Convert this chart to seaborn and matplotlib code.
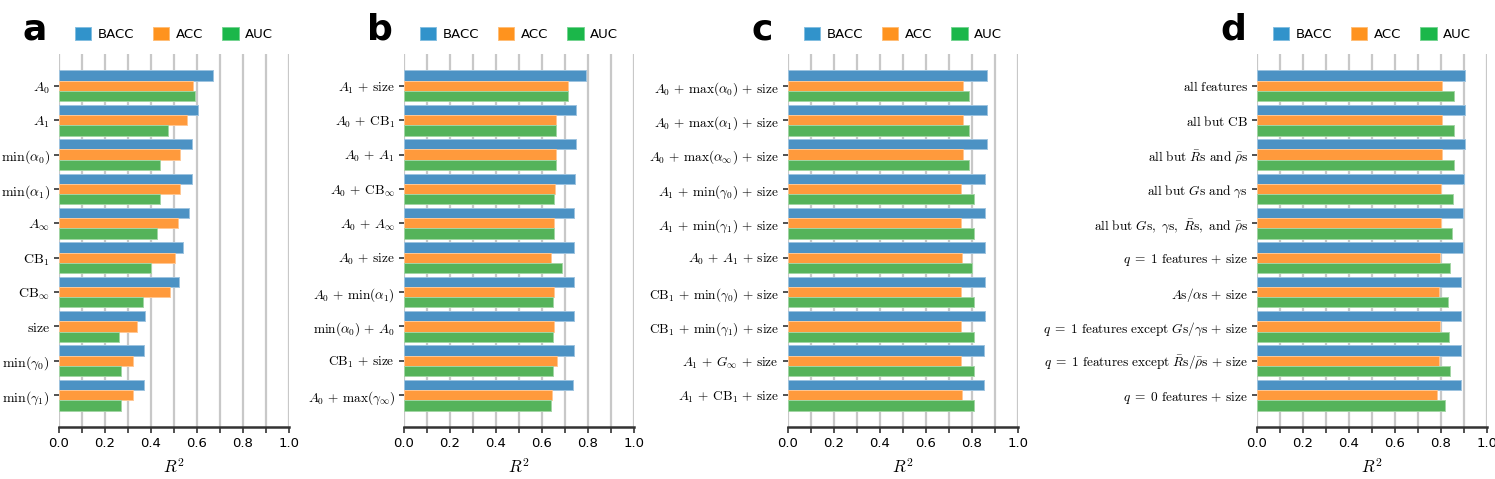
import numpy as np
import pandas as pd
import matplotlib
matplotlib.use("Agg")
import matplotlib.pyplot as plt
import matplotlib.colors as mcolors
from matplotlib.patches import Patch
import seaborn as sns

metrics = ["BACC", "ACC", "AUC"]

labels_a = [r"$A_0$", r"$A_1$", r"$\mathrm{min}(\alpha_0)$", r"$\mathrm{min}(\alpha_1)$", r"$A_\infty$",
            r"$\mathrm{CB}_1$", r"$\mathrm{CB}_\infty$", r"$\mathrm{size}$",
            r"$\mathrm{min}(\gamma_0)$", r"$\mathrm{min}(\gamma_1)$"]
bacc_a = [0.669, 0.605, 0.579, 0.579, 0.567, 0.541, 0.522, 0.373, 0.370, 0.370]
acc_a = [0.582, 0.556, 0.528, 0.528, 0.518, 0.504, 0.482, 0.338, 0.322, 0.321]
auc_a = [0.591, 0.476, 0.438, 0.438, 0.424, 0.401, 0.367, 0.263, 0.268, 0.268]

labels_b = [r"$A_1\,+\,\mathrm{size}$", r"$A_0\,+\,\mathrm{CB}_1$", r"$A_0\,+\,A_1$",
            r"$A_0\,+\,\mathrm{CB}_\infty$", r"$A_0\,+\,A_\infty$", r"$A_0\,+\,\mathrm{size}$",
            r"$A_0\,+\,\mathrm{min}(\alpha_1)$", r"$\mathrm{min}(\alpha_0)\,+\,A_0$",
            r"$\mathrm{CB}_1\,+\,\mathrm{size}$", r"$A_0\,+\,\mathrm{max}(\gamma_\infty)$"]
bacc_b = [0.791, 0.749, 0.747, 0.744, 0.740, 0.738, 0.738, 0.738, 0.737, 0.733]
acc_b = [0.712, 0.661, 0.660, 0.656, 0.651, 0.640, 0.650, 0.650, 0.667, 0.645]
auc_b = [0.712, 0.660, 0.660, 0.651, 0.650, 0.686, 0.648, 0.648, 0.647, 0.637]

labels_c = [r"$A_0\,+\,\mathrm{max}(\alpha_0)\,+\,\mathrm{size}$",
            r"$A_0\,+\,\mathrm{max}(\alpha_1)\,+\,\mathrm{size}$",
            r"$A_0\,+\,\mathrm{max}(\alpha_\infty)\,+\,\mathrm{size}$",
            r"$A_1\,+\,\mathrm{min}(\gamma_0)\,+\,\mathrm{size}$",
            r"$A_1\,+\,\mathrm{min}(\gamma_1)\,+\,\mathrm{size}$",
            r"$A_0\,+\,A_1\,+\,\mathrm{size}$",
            r"$\mathrm{CB}_1\,+\,\mathrm{min}(\gamma_0)\,+\,\mathrm{size}$",
            r"$\mathrm{CB}_1\,+\,\mathrm{min}(\gamma_1)\,+\,\mathrm{size}$",
            r"$A_1\,+\,G_\infty\,+\,\mathrm{size}$",
            r"$A_1\,+\,\mathrm{CB}_1\,+\,\mathrm{size}$"]
bacc_c = [0.865, 0.865, 0.865, 0.855, 0.855, 0.855, 0.855, 0.855, 0.852, 0.852]
acc_c = [0.763, 0.763, 0.763, 0.753, 0.753, 0.755, 0.752, 0.752, 0.753, 0.756]
auc_c = [0.785, 0.785, 0.785, 0.810, 0.810, 0.798, 0.808, 0.808, 0.807, 0.807]

labels_d = [r"$\mathrm{all\ features}$", r"$\mathrm{all\ but\ CB}$",
            r"$\mathrm{all\ but\ }\bar{R}\mathrm{s\ and\ }\bar{\rho}\mathrm{s}$",
            r"$\mathrm{all\ but\ }G\mathrm{s\ and\ }\gamma\mathrm{s}$",
            r"$\mathrm{all\ but\ }G\mathrm{s,\ }\gamma\mathrm{s,\ }\bar{R}\mathrm{s,\ and\ }\bar{\rho}\mathrm{s}$",
            r"$q\;=\;1\ \mathrm{features}\,+\,\mathrm{size}$",
            r"$A\mathrm{s}/\alpha\mathrm{s}\,+\,\mathrm{size}$",
            r"$q\;=\;1\ \mathrm{features\ except\ }G\mathrm{s}/\gamma\mathrm{s}\,+\,\mathrm{size}$",
            r"$q\;=\;1\ \mathrm{features\ except\ }\bar{R}\mathrm{s}/\bar{\rho}\mathrm{s}\,+\,\mathrm{size}$",
            r"$q\;=\;0\ \mathrm{features}\,+\,\mathrm{size}$"]
bacc_d = [0.906, 0.906, 0.903, 0.900, 0.897, 0.894, 0.888, 0.888, 0.888, 0.887]
acc_d = [0.806, 0.806, 0.804, 0.801, 0.798, 0.795, 0.790, 0.794, 0.790, 0.782]
auc_d = [0.856, 0.856, 0.856, 0.851, 0.848, 0.840, 0.832, 0.835, 0.839, 0.819]

bar_colors = ["#4c92c4", "#ff9a3c", "#55b35a"]
legend_colors = ["#3193cb", "#ff931e", "#1bb74a"]

sns.set_theme(style="white")
plt.rcParams["mathtext.fontset"] = "cm"
plt.rcParams["font.family"] = ["DejaVu Sans"]
plt.rcParams["text.color"] = "black"
plt.rcParams["xtick.color"] = "black"
plt.rcParams["ytick.color"] = "black"
plt.rcParams["axes.labelcolor"] = "black"


def make_df(labels, bacc, acc, auc):
    rows = []
    for lab, b, a, u in zip(labels, bacc, acc, auc):
        rows.append({"feature": lab, "metric": "BACC", "value": b})
        rows.append({"feature": lab, "metric": "ACC", "value": a})
        rows.append({"feature": lab, "metric": "AUC", "value": u})
    return pd.DataFrame(rows)


def lighten(c, f):
    return tuple(np.array(mcolors.to_rgb(c)) * (1 - f) + f)


panels = [
    ("a", make_df(labels_a, bacc_a, acc_a, auc_a), labels_a, 10),
    ("b", make_df(labels_b, bacc_b, acc_b, auc_b), labels_b, 9.6),
    ("c", make_df(labels_c, bacc_c, acc_c, auc_c), labels_c, 9.6),
    ("d", make_df(labels_d, bacc_d, acc_d, auc_d), labels_d, 9.6),
]

fig = plt.figure(figsize=(14.95, 4.79), dpi=100)
lefts = [59, 404, 788, 1257]
for (letter, df, labels, lsize), left in zip(panels, lefts):
    ax = fig.add_axes([left / 1495, 1 - 427 / 479, 230 / 1495, 373 / 479])
    sns.barplot(data=df, x="value", y="feature", hue="metric", order=labels,
                hue_order=metrics, palette=bar_colors, width=0.9, errorbar=None,
                saturation=1, orient="h", legend=False, ax=ax)
    for p in ax.patches:
        p.set_edgecolor(lighten(p.get_facecolor(), 0.45))
        p.set_linewidth(0.7)
    ax.set_xlim(0, 1.0)
    ax.set_ylim(9.93, -0.93)
    ax.set_xticks(np.arange(0, 1.01, 0.2))
    ax.set_xticks(np.arange(0.1, 1.0, 0.2), minor=True)
    ax.set_xticklabels(["0.0", "0.2", "0.4", "0.6", "0.8", "1.0"], fontsize=9.5)
    ax.grid(axis="x", which="both", color="#c8c8c8", linewidth=1.6)
    ax.set_axisbelow(True)
    for s in ["top", "right", "left"]:
        ax.spines[s].set_visible(False)
    ax.spines["bottom"].set_color("#333333")
    ax.spines["bottom"].set_linewidth(1.8)
    ax.tick_params(axis="x", which="both", bottom=True, length=4, width=1.2,
                   color="#333333", pad=3)
    ax.tick_params(axis="y", left=True, length=3.6, width=1.2, color="#333333",
                   labelsize=lsize, pad=3)
    ax.set_ylabel("")
    ax.set_xlabel(r"$R^2$", fontsize=12, labelpad=6)
    handles = [Patch(facecolor=c, edgecolor=lighten(c, 0.4), linewidth=0.7)
               for c in legend_colors]
    ax.legend(handles, metrics, loc="lower center", bbox_to_anchor=(0.5, 1.01),
              ncol=3, frameon=False, fontsize=9.5, handlelength=1.23,
              handleheight=1.23, handletextpad=0.5, columnspacing=1.45,
              borderaxespad=0.3)
    ax.text(-0.16, 1.04, letter, transform=ax.transAxes, fontsize=26,
            fontweight="bold", va="baseline", ha="left", color="black")

fig.savefig("out.png", dpi=100)
